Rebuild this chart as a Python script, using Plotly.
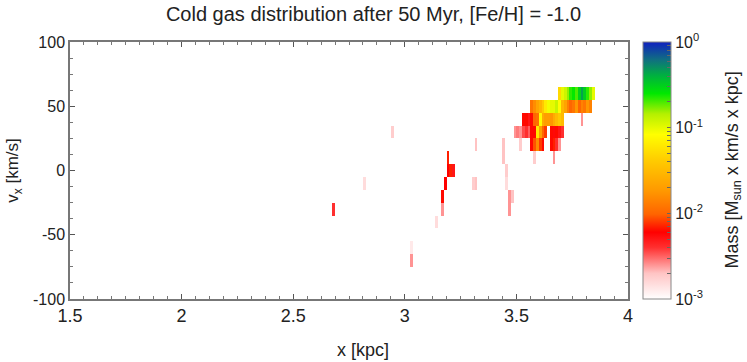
import numpy as np
import plotly.graph_objects as go

# grid of the 2D histogram (x in kpc, v_x in km/s)
dx = 0.0125
x_edges = np.arange(1.5, 4.0 + dx / 2, dx)
v_centers = np.arange(-100, 101, 10)

# dense clump, one list per velocity row, consecutive x bins from row_x0
v_rows = [60, 50, 40, 30]
row_x0 = [3.6875, 3.5625, 3.525, 3.4875]
row_mass = [
    [0.05, 0.1, 0.12, 0.16, 0.22, 0.25, 0.2, 0.3, 0.45, 0.32, 0.22, 0.16, 0.1],
    [0.012, 0.016, 0.022, 0.028, 0.04, 0.063, 0.09, 0.1, 0.1, 0.125, 0.08,
     0.03, 0.022, 0.014, 0.01, 0.012, 0.018, 0.01, 0.014, 0.012, 0.018, 0.014],
    [0.0063, 0.0063, 0.005, 0.0063, 0.01, 0.011, 0.08, 0.025, 0.02, 0.02,
     0.018, 0.025, 0.032, 0.04, 0.032],
    [0.0025, 0.0028, 0.0025, 0.0035, 0.004, 0.0032, 0.0063, 0.0063, 0.063,
     0.02, 0.01, 0.008, 0, 0.0063, 0.0056, 0.0063, 0.005, 0.004],
]

# scattered single cells
spot_x = [3.7875, 3.4375, 3.5125, 3.5625, 3.575, 3.5875, 3.6, 3.6125,
          3.65, 3.6625, 3.675, 3.6875,
          3.4375, 3.575, 3.6625, 3.45, 3.45, 3.4625, 3.475, 3.4625,
          3.1875, 3.1875, 3.2, 3.2125, 3.175, 3.1625, 3.1625, 3.1375,
          3.3125, 3.3, 3.3125, 2.9375, 2.8125, 2.675, 3.025, 3.025]
spot_v = [40, 20, 20, 20, 20, 20, 20, 20,
          20, 20, 20, 20,
          10, 10, 10, 0, -10, -20, -20, -30,
          10, 0, 0, 0, -10, -20, -30, -40,
          20, -10, -10, 30, -10, -30, -60, -70]
spot_mass = [0.0025, 0.002, 0.0018, 0.0063, 0.009, 0.016, 0.008, 0.0063,
             0.0063, 0.007, 0.004, 0.0025,
             0.002, 0.0018, 0.0025, 0.0018, 0.0015, 0.0025, 0.002, 0.0025,
             0.007, 0.006, 0.007, 0.005, 0.006, 0.0063, 0.0025, 0.0015,
             0.002, 0.0018, 0.002, 0.0018, 0.0015, 0.004, 0.0013, 0.0025]

x_ticks = [1.5, 2, 2.5, 3, 3.5, 4]
x_ticklabels = ["1.5", "2", "2.5", "3", "3.5", "4"]
v_ticks = [-100, -50, 0, 50, 100]
v_ticklabels = ["-100", "-50", "0", "50", "100"]
cbar_decades = [-3, -2, -1, 0]
cbar_labels = ["10<sup>-3</sup>", "10<sup>-2</sup>", "10<sup>-1</sup>", "10<sup>0</sup>"]

# build the histogram table
nx = len(x_edges) - 1
x_centers = x_edges[:-1] + dx / 2
z = np.full((len(v_centers), nx), np.nan)


def put(x, v, m):
    if m <= 0:
        return
    i = int(np.floor((x - 1.5) / dx + 1e-6))
    j = int(round((v + 100) / 10))
    z[j, i] = np.log10(m)


for v, x0, masses in zip(v_rows, row_x0, row_mass):
    for k, m in enumerate(masses):
        put(x0 + k * dx, v, m)
for x, v, m in zip(spot_x, spot_v, spot_mass):
    put(x, v, m)

# log colorbar ticks: labelled decades plus unlabelled 2..9 sub-ticks
cb_vals, cb_text = [], []
for d, lab in zip(cbar_decades, cbar_labels):
    cb_vals.append(d)
    cb_text.append(lab)
    if d < 0:
        for k in range(2, 10):
            cb_vals.append(d + np.log10(k))
            cb_text.append("")

cscale = [
    [0.0, "#ffffff"], [0.1, "#ffc4c4"], [0.2, "#ff3030"], [0.26, "#ff0000"],
    [0.33, "#ff6400"], [0.42, "#ff9800"], [0.54, "#ffcc00"], [0.64, "#ffff00"],
    [0.72, "#b4f000"], [0.8, "#00e800"], [0.87, "#00b040"], [0.93, "#107080"],
    [1.0, "#1020c0"],
]

font_main = "Liberation Sans, sans-serif"
txt = "#222222"

fig = go.Figure()
fig.add_trace(go.Heatmap(
    x=x_centers, y=v_centers, z=z, zmin=-3, zmax=0,
    colorscale=cscale, hoverinfo="skip",
    colorbar=dict(
        x=1.027, xanchor="left", xpad=0, y=0.5, len=1, ypad=0,
        thickness=28, outlinecolor="#888888", outlinewidth=1,
        tickvals=cb_vals, ticktext=cb_text,
        ticks="inside", ticklen=4, tickcolor="#666666",
        tickfont=dict(family=font_main, size=16, color=txt),
    ),
))

fig.add_annotation(
    text="Mass [M<sub>sun</sub> x km/s x kpc]", textangle=-90,
    xref="paper", yref="paper", x=(733 - 70) / 558, y=0.5,
    xanchor="center", yanchor="middle", showarrow=False,
    font=dict(family=font_main, size=18, color=txt),
)
fig.add_annotation(
    text="x [kpc]", xref="paper", yref="paper",
    x=(363 - 70) / 558, y=-(350 - 299) / 257,
    xanchor="center", yanchor="middle", showarrow=False,
    font=dict(family=font_main, size=18, color=txt),
)

fig.update_layout(
    width=747, height=362,
    margin=dict(l=70, r=119, t=42, b=63, autoexpand=False),
    paper_bgcolor="white", plot_bgcolor="white",
    title=dict(text="Cold gas distribution after 50 Myr, [Fe/H] = -1.0",
               x=0.5, xanchor="center", y=0.962, yanchor="middle",
               font=dict(family=font_main, size=20, color=txt)),
    xaxis=dict(
        range=[1.5, 4], tickvals=x_ticks, ticktext=x_ticklabels,
        ticks="inside", ticklen=5, tickcolor="#555",
        minor=dict(dtick=0.0625, ticks="inside", ticklen=3, tickcolor="#777"),
        showgrid=False, zeroline=False, showline=True, mirror="ticks",
        linecolor="#777", linewidth=1.5, automargin=False,
        tickfont=dict(family=font_main, size=18, color=txt),
    ),
    yaxis=dict(
        range=[-100, 100], tickvals=v_ticks, ticktext=v_ticklabels,
        ticks="inside", ticklen=5, tickcolor="#555",
        minor=dict(dtick=12.5, ticks="inside", ticklen=3, tickcolor="#777"),
        showgrid=False, zeroline=False, showline=True, mirror="ticks",
        linecolor="#777", linewidth=1.5, automargin=False,
        tickfont=dict(family=font_main, size=16, color=txt),
        title=dict(text="v<sub>x</sub> [km/s]", standoff=10,
                   font=dict(family=font_main, size=17, color=txt)),
    ),
)

# the page body has a default 8px margin; drop it so the figure sits at the window corner
fig.write_html("out.html", config={"displayModeBar": False},
               post_script="document.body.style.margin = '0';")
